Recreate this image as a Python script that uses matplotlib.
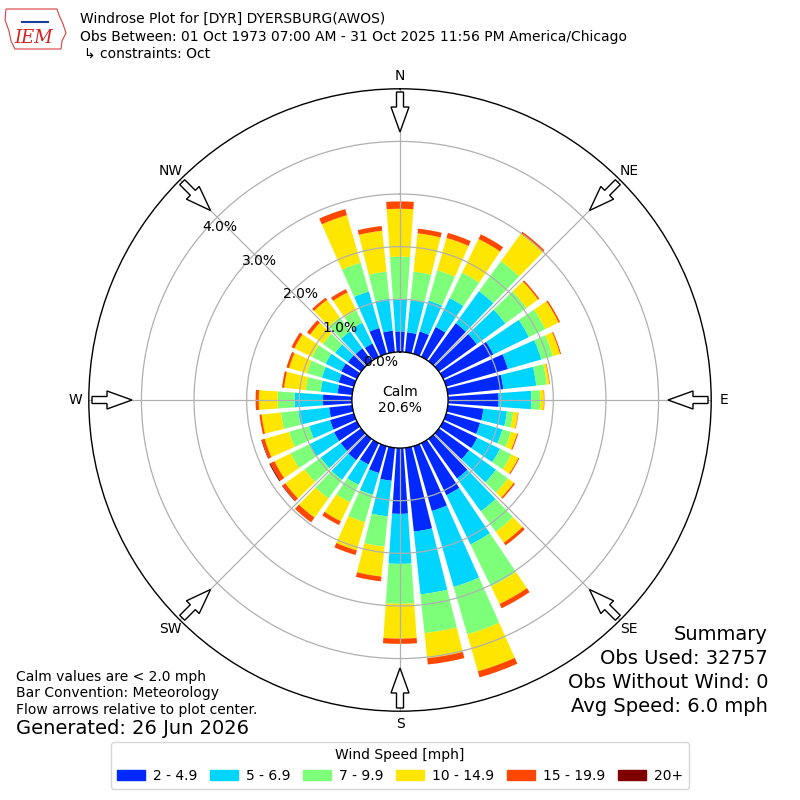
import numpy as np
import matplotlib
matplotlib.use("Agg")
import matplotlib.pyplot as plt
from matplotlib.patches import FancyArrow, Polygon, Patch

# wind direction bins (deg, meteorological)
directions = np.arange(0, 360, 10)
speed_labels = ["2 - 4.9", "5 - 6.9", "7 - 9.9", "10 - 14.9", "15 - 19.9", "20+"]

# frequency (%) per speed bin for each direction
spd_2_5 = [0.39, 0.38, 0.44, 0.63, 0.89, 0.89, 1.06, 1.22, 1.06, 0.96, 0.68, 0.67,
           0.72, 0.71, 0.93, 1.10, 1.28, 1.60, 1.25, 0.63, 0.53, 0.45, 0.50, 0.48,
           0.48, 0.47, 0.44, 0.55, 0.28, 0.30, 0.33, 0.31, 0.30, 0.28, 0.51, 0.41]
spd_5_7 = [0.62, 0.62, 0.61, 0.61, 0.75, 0.67, 0.75, 0.66, 0.63, 0.62, 0.45, 0.44,
           0.48, 0.63, 0.77, 1.04, 1.50, 1.20, 0.95, 0.68, 0.43, 0.43, 0.46, 0.47,
           0.52, 0.41, 0.59, 0.54, 0.32, 0.33, 0.33, 0.30, 0.40, 0.44, 0.72, 0.61]
spd_7_10 = [0.80, 0.54, 0.60, 0.54, 0.71, 0.50, 0.35, 0.23, 0.20, 0.17, 0.12, 0.17,
            0.24, 0.28, 0.48, 0.89, 0.94, 0.74, 0.76, 0.58, 0.54, 0.37, 0.44, 0.38,
            0.40, 0.40, 0.33, 0.32, 0.29, 0.30, 0.29, 0.29, 0.33, 0.26, 0.57, 0.52]
spd_10_15 = [0.91, 0.73, 0.64, 0.71, 0.65, 0.27, 0.28, 0.14, 0.05, 0.07, 0.09, 0.12,
             0.15, 0.14, 0.26, 0.37, 0.73, 0.48, 0.66, 0.57, 0.56, 0.40, 0.45, 0.45,
             0.34, 0.48, 0.37, 0.36, 0.41, 0.35, 0.37, 0.30, 0.41, 0.38, 0.94, 0.78]
spd_15_20 = [0.14, 0.09, 0.10, 0.10, 0.04, 0.03, 0.03, 0.02, 0.01, 0.01, 0.01, 0.02,
             0.02, 0.03, 0.06, 0.09, 0.12, 0.12, 0.10, 0.09, 0.09, 0.08, 0.11, 0.07,
             0.09, 0.06, 0.04, 0.06, 0.04, 0.05, 0.06, 0.07, 0.05, 0.07, 0.12, 0.09]
spd_20p = [0.00, 0.00, 0.00, 0.00, 0.00, 0.00, 0.00, 0.00, 0.00, 0.00, 0.00, 0.00,
           0.00, 0.00, 0.00, 0.00, 0.00, 0.00, 0.00, 0.00, 0.00, 0.00, 0.00, 0.01,
           0.02, 0.01, 0.00, 0.00, 0.00, 0.00, 0.00, 0.00, 0.00, 0.00, 0.00, 0.00]

calm_pct = 20.6
rings = [0, 1, 2, 3, 4]
compass = ["N", "NE", "E", "SE", "S", "SW", "W", "NW"]

fig = plt.figure(figsize=(8, 8), dpi=100)
ax = fig.add_axes([0.111, 0.111, 0.778, 0.778], projection="polar")
ax.set_theta_zero_location("N")
ax.set_theta_direction(-1)
ax.set_ylim(0, 5)
ax.set_rorigin(-0.914)

colors = plt.cm.jet(np.linspace(0, 1, 7)[1:])
theta = np.deg2rad(directions)
base = np.zeros(len(directions))
for vals, col, lab in zip([spd_2_5, spd_5_7, spd_7_10, spd_10_15, spd_15_20, spd_20p],
                          colors, speed_labels):
    vals = np.array(vals)
    ax.bar(theta, vals, width=np.deg2rad(8), bottom=base, color=col,
           edgecolor="none", label=lab, zorder=1)
    base = base + vals

# grid
ax.set_yticks(rings[1:])
ax.set_yticklabels([])
ax.set_xticks(np.deg2rad(np.arange(0, 360, 45)))
ax.set_xticklabels([])
ax.grid(True, color="#b0b0b0", lw=0.9)
for sp in ax.spines.values():
    sp.set_color("black")
    sp.set_linewidth(1.0)

for r in rings:
    ax.text(np.deg2rad(310), r, "%.1f%%" % r, ha="left", va="bottom", fontsize=10)

ax.text(0.5, 0.5, "Calm\n%.1f%%" % calm_pct, transform=ax.transAxes,
        ha="center", va="center", fontsize=10)

# direction labels and flow arrows
for i, lab in enumerate(compass):
    ang = np.deg2rad(i * 45)
    ax.text(ang, 5.25, lab, ha="center", va="center", fontsize=10, clip_on=False)
    r0 = 308 / 800.0
    L = 40 / 800.0
    sx = 0.5 + r0 * np.sin(ang)
    sy = 0.5 + r0 * np.cos(ang)
    arr = FancyArrow(sx, sy, -L * np.sin(ang), -L * np.cos(ang),
                     width=7 / 800.0, head_width=18 / 800.0, head_length=25 / 800.0,
                     length_includes_head=True, fc="white", ec="black", lw=1.0,
                     transform=fig.transFigure, zorder=5)
    fig.add_artist(arr)

# header
fig.text(80 / 800, 1 - 19 / 800, "Windrose Plot for [DYR] DYERSBURG(AWOS)",
         fontsize=10, va="center")
fig.text(80 / 800, 1 - 37 / 800,
         "Obs Between: 01 Oct 1973 07:00 AM - 31 Oct 2025 11:56 PM America/Chicago",
         fontsize=10, va="center")
fig.text(84 / 800, 1 - 54 / 800, "\u21b3 constraints: Oct", fontsize=10, va="center")

# logo
iowa = [(6, 9), (57, 9), (59, 15), (63, 24), (66, 33), (62, 41), (61, 49),
        (15, 49), (11, 41), (9, 31), (5, 20)]
fig.add_artist(Polygon([(x / 800, 1 - y / 800) for x, y in iowa], closed=True,
                       fill=False, ec="#d84040", lw=0.8, transform=fig.transFigure))
fig.add_artist(plt.Line2D([22 / 800, 48 / 800], [1 - 22 / 800, 1 - 22 / 800],
                          color="#1a3fa0", lw=1.5, transform=fig.transFigure))
fig.text(34 / 800, 1 - 38 / 800, "IEM", color="#d42020", fontstyle="italic",
         family="serif", fontsize=13, ha="center", va="center")

# notes
fig.text(16 / 800, 1 - 677 / 800, "Calm values are < 2.0 mph", fontsize=10, va="center")
fig.text(16 / 800, 1 - 693 / 800, "Bar Convention: Meteorology", fontsize=10, va="center")
fig.text(16 / 800, 1 - 710 / 800, "Flow arrows relative to plot center.", fontsize=10,
         va="center")
fig.text(16 / 800, 1 - 729 / 800, "Generated: 26 Jun 2026", fontsize=14, va="center")

summary = ["Summary", "Obs Used: 32757", "Obs Without Wind: 0", "Avg Speed: 6.0 mph"]
for j, s in enumerate(summary):
    fig.text(768 / 800, 1 - (635 + 23.7 * j) / 800, s, fontsize=14, ha="right",
             va="center")

handles = [Patch(color=c) for c in colors]
fig.legend(handles, speed_labels, loc="center", bbox_to_anchor=(0.5, 1 - 765.5 / 800),
           ncol=6, title="Wind Speed [mph]", fontsize=10, title_fontsize=10,
           columnspacing=0.9, handletextpad=0.6, handlelength=2.0)

fig.savefig("out.png", dpi=100)
